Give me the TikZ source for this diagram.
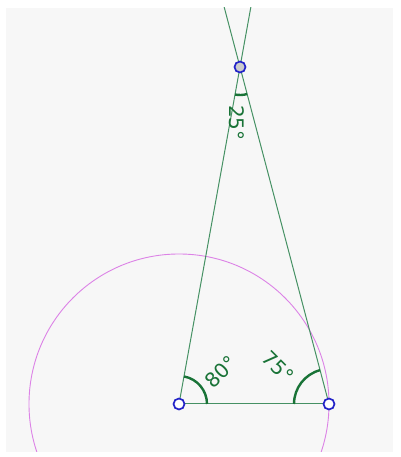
\documentclass[tikz,border=0pt]{standalone}
\usepackage{fontspec}
\setmainfont{DejaVu Sans}
\usetikzlibrary{calc}
\definecolor{linegreen}{RGB}{70,145,100}
\definecolor{arcgreen}{RGB}{25,115,55}
\definecolor{ptblue}{RGB}{35,35,200}
\definecolor{circlepink}{RGB}{220,130,230}
\definecolor{panelgray}{RGB}{247,247,247}
\begin{document}
\begin{tikzpicture}[x=1pt,y=1pt,
  side/.style={draw=linegreen,line width=1pt},
  anglearc/.style={draw=arcgreen,line width=2.4pt},
  anglelabel/.style={text=arcgreen,font=\fontsize{20}{20}\selectfont,inner sep=0pt},
  freept/.style={circle,draw=ptblue,fill=white,line width=1.7pt,minimum size=11pt,inner sep=0pt},
  fixedpt/.style={freept,fill=gray!40}]
\useasboundingbox (0,0) rectangle (400,457);
\fill[panelgray] (6,5) rectangle (393,449);
\coordinate (pA) at (179,53);
\coordinate (pB) at (329,53);
\coordinate (pC) at (240,390);
\begin{scope}
  \clip (6,5) rectangle (393,449);
  \draw[circlepink,line width=0.9pt] (pA) circle (150);
  % sides, the two slanted ones run past C
  \draw[side] (pA) -- (pB);
  \draw[side] (pA) -- ($(pA)!1.3!(pC)$);
  \draw[side] (pB) -- ($(pB)!1.3!(pC)$);
\end{scope}
% angle marks
\draw[anglearc] ($(pA)+(28,0)$) arc (0:79.7:28);
\draw[anglearc] ($(pB)+(-35,0)$) arc (180:104.8:35);
\draw[anglearc] ($(pC)+(259.7:28)$) arc (259.7:284.8:28);
\node[anglelabel,rotate=45] (lA) at (221,85) {80°};
\node[anglelabel,rotate=-45] (lB) at (278,90) {75°};
\node[anglelabel,rotate=-90] (lC) at (237,334) {25°};
% points
\node[freept] (A) at (pA) {};
\node[freept] (B) at (pB) {};
\node[fixedpt] (C) at (pC) {};
\end{tikzpicture}
\end{document}
